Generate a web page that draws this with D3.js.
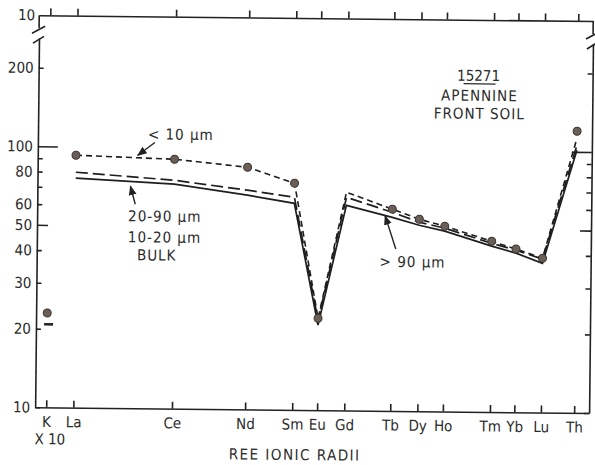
<!DOCTYPE html>
<html>
<head>
<meta charset="utf-8">
<script src="https://cdn.jsdelivr.net/npm/d3@7"></script>
<style>
body { margin: 0; background: #fff; }
svg { display: block; }
text { font-family: "Liberation Sans Narrow", "DejaVu Sans Condensed", "Arial Narrow", sans-serif; font-size: 15px; fill: #2b2b2b; }
.axis path, .axis line { stroke: #222; stroke-width: 1.6; }
</style>
</head>
<body>
<div id="chart"></div>
<script>
// REE pattern, 15271 Apennine Front soil
var elements = ["K", "La", "Ce", "Nd", "Sm", "Eu", "Gd", "Tb", "Dy", "Ho", "Tm", "Yb", "Lu", "Th"];
// position along the ionic radius axis (0-100)
var radiusPos = [2.0, 6.9, 24.7, 37.9, 46.4, 50.9, 55.8, 64.1, 69.0, 73.6, 82.1, 86.5, 91.3, 97.3];

// < 10 um (short dash + dots)
var fineLine = [null, 92.7, 90.3, 84.7, 73.9, 22.5, 68.6, 59.3, 54.4, 51.3, 45.1, 42.2, 39.0, 113];
var fineDots = [23, 92.7, 90.3, 84.7, 73.9, 22.5, null, 59.3, 54.4, 51.3, 45.1, 42.2, 39.0, 120];
// 20-90 / 10-20 um (long dash)
var midLine = [null, 79.8, 75.0, 69.2, 65.3, 22.1, 65.6, 57.7, 53.0, 50.4, 44.3, 41.8, 38.7, 106];
// bulk (solid)
var bulkLine = [null, 75.7, 72.5, 66.2, 61.9, 21.2, 61.1, 55.2, 51.6, 49.1, 43.2, 40.7, 37.3, 101.5];
var bulkK = [20.8];

var yTicks = [10, 20, 30, 40, 50, 60, 70, 80, 90, 100, 200];
var yLabels = [10, 20, 30, 40, 50, 60, 80, 100, 200];

var width = 595;
var height = 465;
var left = 37;
var right = 591;
var bottom = 410;
var topLine = 18;
var decade = 261;

var xScale = d3.scaleLinear()
    .domain([0, 100])
    .range([left, right]);

var yScale = d3.scaleLog()
    .domain([10, 260])
    .range([bottom, bottom - decade * Math.log10(26)]);

var svg = d3.select("#chart")
    .append("svg")
        .attr("width", width)
        .attr("height", height);

svg.append("defs").append("marker")
        .attr("id", "head")
        .attr("viewBox", "0 0 10 10")
        .attr("refX", 9)
        .attr("refY", 5)
        .attr("markerWidth", 7)
        .attr("markerHeight", 7)
        .attr("orient", "auto")
    .append("path")
        .attr("d", "M0,1L10,5L0,9Z")
        .attr("fill", "#222");

// the scan is tilted a little
var vis = svg.append("g")
    .attr("transform", "rotate(0.6,300,230)");

// AXES
var leftAxis = vis.append("g")
    .attr("class", "axis")
    .attr("transform", "translate(" + left + ",0)")
    .call(d3.axisLeft(yScale)
        .tickValues(yTicks)
        .tickSizeInner(-5)
        .tickSizeOuter(0)
        .tickPadding(5)
        .tickFormat(function (d) { return yLabels.indexOf(d) >= 0 ? d : ""; }));
leftAxis.selectAll(".tick line")
    .attr("x2", function (d) { return d === 100 ? 20 : (d === 50 ? 11 : 5); });

var rightAxis = vis.append("g")
    .attr("class", "axis")
    .attr("transform", "translate(" + right + ",0)")
    .call(d3.axisRight(yScale)
        .tickValues(yTicks)
        .tickSizeInner(-5)
        .tickSizeOuter(0)
        .tickFormat(""));
rightAxis.selectAll(".tick line")
    .attr("x2", function (d) { return d === 100 ? -20 : (d === 50 ? -11 : -5); });

vis.append("g")
    .attr("class", "axis")
    .attr("transform", "translate(0," + bottom + ")")
    .call(d3.axisBottom(xScale)
        .tickValues(radiusPos)
        .tickSizeInner(-7)
        .tickSizeOuter(0)
        .tickPadding(9)
        .tickFormat(function (d, i) { return elements[i]; }));

// upper panel bottom edge (cut off)
vis.append("g")
    .attr("class", "axis")
    .attr("transform", "translate(0," + topLine + ")")
    .call(d3.axisBottom(xScale)
        .tickValues(radiusPos)
        .tickSizeInner(-7)
        .tickSizeOuter(0)
        .tickFormat(""));

vis.append("text")
    .attr("x", left - 4)
    .attr("y", topLine + 5)
    .attr("text-anchor", "end")
    .text("10");

// axis breaks
[left, right].forEach(function (x) {
    var g = vis.append("g")
        .attr("stroke", "#222")
        .attr("stroke-width", 1.6);
    g.append("line").attr("x1", x).attr("x2", x).attr("y1", topLine).attr("y2", topLine + 13);
    g.append("line").attr("x1", x - 7).attr("y1", topLine + 18).attr("x2", x + 6).attr("y2", topLine + 11);
    g.append("line").attr("x1", x - 6).attr("y1", topLine + 28).attr("x2", x + 5).attr("y2", topLine + 21);
});

// LINES
function lineFor(values) {
    return d3.line()
        .defined(function (d, i) { return values[i] != null; })
        .x(function (d, i) { return xScale(radiusPos[i]); })
        .y(function (d, i) { return yScale(values[i] || 10); });
}

vis.append("path")
    .datum(bulkLine)
    .attr("d", lineFor(bulkLine))
    .attr("fill", "none")
    .attr("stroke", "#1e1e1e")
    .attr("stroke-width", 1.7);

vis.append("path")
    .datum(midLine)
    .attr("d", lineFor(midLine))
    .attr("fill", "none")
    .attr("stroke", "#1e1e1e")
    .attr("stroke-width", 1.7)
    .attr("stroke-dasharray", "12 5");

vis.append("path")
    .datum(fineLine)
    .attr("d", lineFor(fineLine))
    .attr("fill", "none")
    .attr("stroke", "#1e1e1e")
    .attr("stroke-width", 1.6)
    .attr("stroke-dasharray", "6 4");

vis.selectAll(".dot")
    .data(fineDots.map(function (v, i) { return { v: v, i: i }; })
        .filter(function (d) { return d.v != null; }))
    .enter().append("circle")
        .attr("class", "dot")
        .attr("cx", function (d) { return xScale(radiusPos[d.i]); })
        .attr("cy", function (d) { return yScale(d.v); })
        .attr("r", 4)
        .attr("fill", "#6a5f57")
        .attr("stroke", "#3b3431")
        .attr("stroke-width", 1);

vis.selectAll(".kbar")
    .data(bulkK)
    .enter().append("line")
        .attr("class", "kbar")
        .attr("x1", xScale(radiusPos[0]) - 3)
        .attr("x2", xScale(radiusPos[0]) + 6)
        .attr("y1", function (d) { return yScale(d); })
        .attr("y2", function (d) { return yScale(d); })
        .attr("stroke", "#2a2a2a")
        .attr("stroke-width", 2.6);

// LABELS
vis.append("text")
    .attr("x", xScale(radiusPos[0]) + 4)
    .attr("y", 447)
    .attr("text-anchor", "middle")
    .text("X 10");

vis.append("text")
    .attr("x", 297)
    .attr("y", 460)
    .attr("text-anchor", "middle")
    .style("letter-spacing", "1.5px")
    .text("REE IONIC RADII");

vis.append("text")
    .attr("x", 477)
    .attr("y", 79)
    .attr("text-anchor", "middle")
    .text("15271");
vis.append("line")
    .attr("x1", 462).attr("x2", 494)
    .attr("y1", 82).attr("y2", 82)
    .attr("stroke", "#2b2b2b")
    .attr("stroke-width", 1.2);
vis.append("text")
    .attr("x", 478)
    .attr("y", 99)
    .attr("text-anchor", "middle")
    .style("letter-spacing", "1px")
    .text("APENNINE");
vis.append("text")
    .attr("x", 478)
    .attr("y", 117)
    .attr("text-anchor", "middle")
    .style("letter-spacing", "1px")
    .text("FRONT SOIL");

vis.append("text")
    .attr("x", 147)
    .attr("y", 141)
    .style("letter-spacing", "1px")
    .text("< 10 \u00b5m");

vis.append("text")
    .attr("x", 128)
    .attr("y", 223)
    .style("letter-spacing", "1px")
    .text("20-90 \u00b5m");
vis.append("text")
    .attr("x", 128)
    .attr("y", 244)
    .style("letter-spacing", "1px")
    .text("10-20 \u00b5m");
vis.append("text")
    .attr("x", 157)
    .attr("y", 262)
    .attr("text-anchor", "middle")
    .style("letter-spacing", "1px")
    .text("BULK");

vis.append("text")
    .attr("x", 380)
    .attr("y", 266)
    .style("letter-spacing", "1px")
    .text("> 90 \u00b5m");

// arrows
var arrows = [
    [154, 144, 137, 157],
    [135, 206, 130, 188],
    [396, 248, 385, 215]
];
vis.selectAll(".arrow")
    .data(arrows)
    .enter().append("line")
        .attr("class", "arrow")
        .attr("x1", function (d) { return d[0]; })
        .attr("y1", function (d) { return d[1]; })
        .attr("x2", function (d) { return d[2]; })
        .attr("y2", function (d) { return d[3]; })
        .attr("stroke", "#222")
        .attr("stroke-width", 1.4)
        .attr("marker-end", "url(#head)");
</script>
</body>
</html>
